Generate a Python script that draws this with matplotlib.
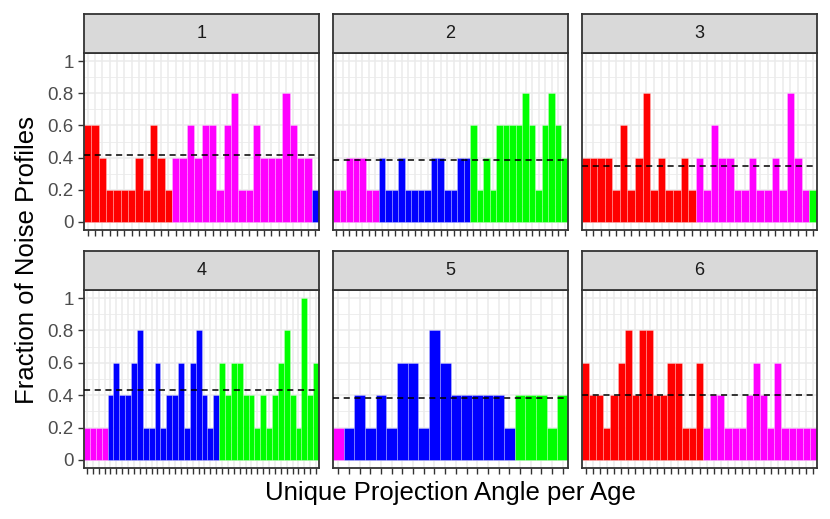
import numpy as np
import matplotlib
matplotlib.use("Agg")
import matplotlib.pyplot as plt

plt.rcParams['font.family'] = ['Liberation Sans', 'DejaVu Sans']

# group colours
colors = {'a': '#FF0000', 'b': '#FF00FF', 'c': '#0000FF', 'd': '#00FF00'}

# bar heights per facet, and the run of groups along each facet
p1_vals = [0.6, 0.6, 0.4, 0.2, 0.2, 0.2, 0.2, 0.4, 0.2, 0.6, 0.4, 0.2,
           0.4, 0.4, 0.6, 0.4, 0.6, 0.6, 0.2, 0.6, 0.8, 0.2, 0.2, 0.6, 0.4, 0.4,
           0.4, 0.8, 0.6, 0.4, 0.4,
           0.2]
p1_groups = [('a', 12), ('b', 19), ('c', 1)]

p2_vals = [0.2, 0.2, 0.4, 0.4, 0.4, 0.2, 0.2,
           0.4, 0.2, 0.2, 0.4, 0.2, 0.2, 0.2, 0.2, 0.4, 0.4, 0.2, 0.2, 0.4, 0.4,
           0.6, 0.2, 0.4, 0.2, 0.6, 0.6, 0.6, 0.6, 0.8, 0.6, 0.2, 0.6, 0.8, 0.6, 0.4]
p2_groups = [('b', 7), ('c', 14), ('d', 15)]

p3_vals = [0.4, 0.4, 0.4, 0.4, 0.2, 0.6, 0.2, 0.4, 0.8, 0.2, 0.4, 0.2, 0.2, 0.4, 0.2,
           0.4, 0.2, 0.6, 0.4, 0.4, 0.2, 0.2, 0.4, 0.2, 0.2, 0.4, 0.2, 0.8, 0.4, 0.2,
           0.2]
p3_groups = [('a', 15), ('b', 15), ('d', 1)]

p4_vals = [0.2, 0.2, 0.2, 0.2,
           0.4, 0.6, 0.4, 0.4, 0.6, 0.8, 0.2, 0.2, 0.6, 0.2, 0.4, 0.4, 0.6, 0.2, 0.6,
           0.8, 0.4, 0.2, 0.4,
           0.6, 0.4, 0.6, 0.6, 0.4, 0.4, 0.2, 0.4, 0.2, 0.4, 0.6, 0.8, 0.4, 0.2, 1.0,
           0.4, 0.6]
p4_groups = [('b', 4), ('c', 19), ('d', 17)]

p5_vals = [0.2,
           0.2, 0.4, 0.2, 0.4, 0.2, 0.6, 0.6, 0.2, 0.8, 0.6, 0.4, 0.4, 0.4, 0.4, 0.4, 0.2,
           0.4, 0.4, 0.4, 0.2, 0.4]
p5_groups = [('b', 1), ('c', 16), ('d', 5)]

p6_vals = [0.6, 0.4, 0.4, 0.2, 0.4, 0.6, 0.8, 0.4, 0.8, 0.8, 0.4, 0.4, 0.6, 0.6, 0.2, 0.2, 0.6,
           0.2, 0.4, 0.4, 0.2, 0.2, 0.2, 0.4, 0.6, 0.4, 0.2, 0.6, 0.2, 0.2, 0.2, 0.2, 0.2]
p6_groups = [('a', 17), ('b', 16)]

facet_labels = ['1', '2', '3', '4', '5', '6']
facets = [(p1_vals, p1_groups), (p2_vals, p2_groups), (p3_vals, p3_groups),
          (p4_vals, p4_groups), (p5_vals, p5_groups), (p6_vals, p6_groups)]

W, H = 830, 519
fig = plt.figure(figsize=(W / 100, H / 100), dpi=100)

col_x = [(84, 319), (333, 568), (582, 817)]
row_y = [(53, 230), (290, 468)]
strip_h = 39
edge = '#333333'

for i, (vals, groups) in enumerate(facets):
    r, c = divmod(i, 3)
    x0, x1 = col_x[c]
    y0, y1 = row_y[r]
    ax = fig.add_axes([x0 / W, 1 - y1 / H, (x1 - x0) / W, (y1 - y0) / H])
    n = len(vals)
    xs = np.arange(1, n + 1)
    bar_cols = []
    for g, k in groups:
        bar_cols += [colors[g]] * k
    ax.bar(xs, vals, width=1.0, color=bar_cols, edgecolor=(1, 1, 1, 0.35),
           linewidth=0.5, zorder=2)
    # dashed line at the facet mean
    ax.axhline(np.mean(vals), color='black', linestyle=(0, (4, 3)), linewidth=1.1, zorder=3)

    ax.set_xlim(0.5, n + 0.5)
    ax.set_ylim(-0.05, 1.05)
    ax.set_xticks(xs)
    ax.set_xticklabels([])
    ax.set_yticks([0, 0.2, 0.4, 0.6, 0.8, 1.0])
    ax.set_yticks([0.1, 0.3, 0.5, 0.7, 0.9], minor=True)
    ax.grid(True, which='major', color='#EBEBEB', linewidth=1.1, zorder=0)
    ax.grid(True, which='minor', axis='y', color='#EBEBEB', linewidth=0.6, zorder=0)
    ax.set_axisbelow(True)
    ax.tick_params(axis='both', which='major', length=4, width=1, color=edge)
    ax.tick_params(axis='y', which='minor', length=0)
    if c == 0:
        ax.set_yticklabels(['0', '0.2', '0.4', '0.6', '0.8', '1'], fontsize=13.5,
                           color='#4D4D4D')
    else:
        ax.tick_params(axis='y', which='major', left=False, labelleft=False)
    for s in ax.spines.values():
        s.set_color(edge)
        s.set_linewidth(1.3)

    # facet strip
    sax = fig.add_axes([x0 / W, 1 - y0 / H, (x1 - x0) / W, strip_h / H])
    sax.set_facecolor('#D9D9D9')
    sax.set_xticks([])
    sax.set_yticks([])
    for s in sax.spines.values():
        s.set_color(edge)
        s.set_linewidth(1.3)
    sax.text(0.5, 0.5, facet_labels[i], ha='center', va='center', fontsize=13,
             color='#1A1A1A', transform=sax.transAxes)

fig.text(450.5 / W, 1 - 493 / H, 'Unique Projection Angle per Age', ha='center',
         va='center', fontsize=18.5)
fig.text(27 / W, 1 - 260.5 / H, 'Fraction of Noise Profiles', ha='center',
         va='center', rotation=90, fontsize=18.5)

fig.savefig('out.png', dpi=100)
